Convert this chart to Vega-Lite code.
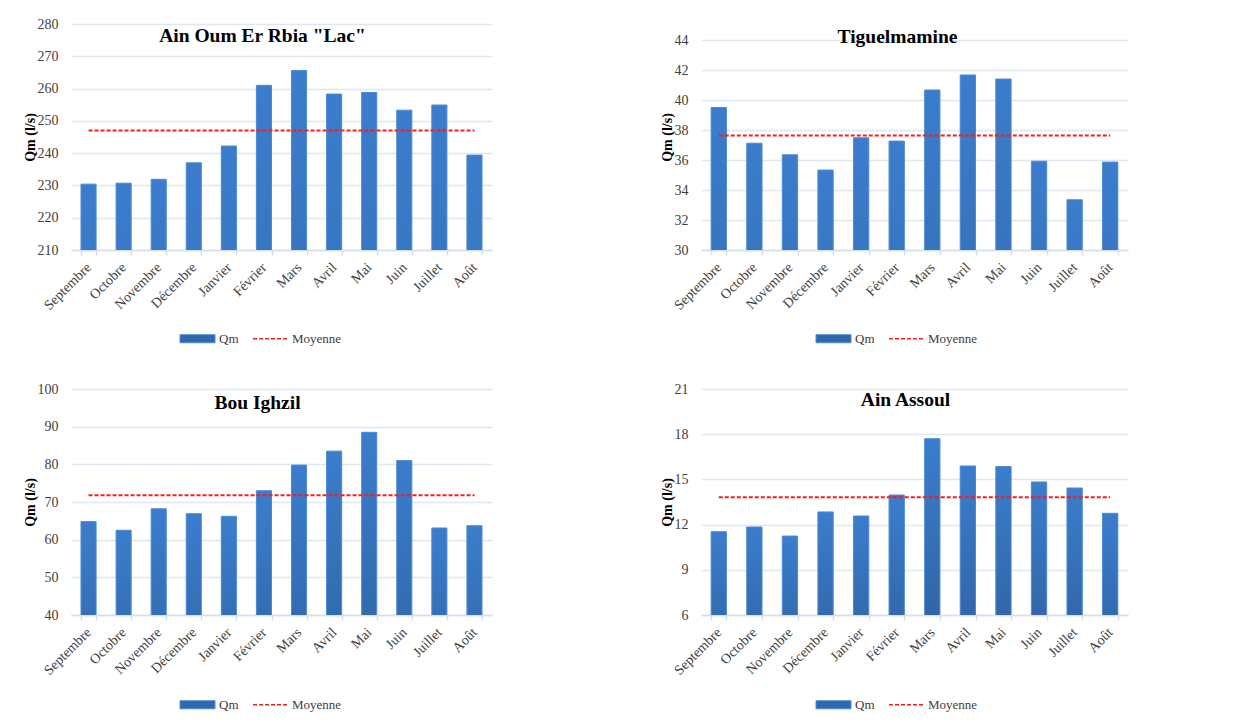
{
  "$schema": "https://vega.github.io/schema/vega-lite/v6.json",
  "background": "white",
  "padding": {"left": 23, "top": 17, "right": 5, "bottom": 5},
  "config": {
    "font": "Liberation Serif",
    "view": {"stroke": null},
    "axis": {"labelFont": "Liberation Serif", "titleFont": "Liberation Serif", "labelColor": "#404040", "labelFontSize": 14, "titleFontSize": 14, "titleColor": "#000000", "labelOverlap": false},
    "axisY": {"domain": false, "ticks": false, "gridColor": "#dfe7f2", "gridWidth": 1.5, "labelPadding": 13, "titleFontWeight": "bold", "titlePadding": 0},
    "axisX": {"grid": false, "domainColor": "#d5dfec", "domainWidth": 1.5, "tickColor": "#d5dfec", "tickWidth": 1.5, "tickSize": 5, "tickBand": "extent", "labelAngle": -45, "labelAlign": "right", "labelBaseline": "middle", "labelPadding": 10, "title": null},
    "title": {"font": "Liberation Serif", "fontSize": 19.5, "fontWeight": "bold", "color": "#000000", "anchor": "middle"},
    "legend": {"direction": "horizontal", "title": null, "labelFont": "Liberation Serif", "labelFontSize": 13, "labelColor": "#404040", "symbolSize": 1225, "columnPadding": 11, "labelOffset": 15}
  },
  "vconcat": [
    {
      "hconcat": [
        {
          "width": 421, "height": 226,
          "title": {"text": "Ain Oum Er Rbia \"Lac\"", "offset": -29, "dx": -19},
          "data": {"values": [
            {"mois": "Septembre", "Qm": 230.4, "Moyenne": 247.0},
            {"mois": "Octobre", "Qm": 230.7, "Moyenne": 247.0},
            {"mois": "Novembre", "Qm": 231.9, "Moyenne": 247.0},
            {"mois": "Décembre", "Qm": 237.0, "Moyenne": 247.0},
            {"mois": "Janvier", "Qm": 242.2, "Moyenne": 247.0},
            {"mois": "Février", "Qm": 261.0, "Moyenne": 247.0},
            {"mois": "Mars", "Qm": 265.6, "Moyenne": 247.0},
            {"mois": "Avril", "Qm": 258.3, "Moyenne": 247.0},
            {"mois": "Mai", "Qm": 258.8, "Moyenne": 247.0},
            {"mois": "Juin", "Qm": 253.3, "Moyenne": 247.0},
            {"mois": "Juillet", "Qm": 254.9, "Moyenne": 247.0},
            {"mois": "Août", "Qm": 239.4, "Moyenne": 247.0}
          ]},
          "encoding": {
            "x": {"field": "mois", "type": "nominal", "sort": null, "scale": {"paddingInner": 0.57, "paddingOuter": 0.285}}
          },
          "layer": [
            {
              "mark": {"type": "bar", "clip": true, "strokeWidth": 1, "fill": {"x1": 0, "y1": 0, "x2": 0, "y2": 1, "gradient": "linear", "stops": [{"offset": 0, "color": "#3b7dcc"}, {"offset": 1, "color": "#2c5a93"}]}},
              "encoding": {
                "y": {"field": "Qm", "type": "quantitative", "title": "Qm (l/s)", "scale": {"domain": [210, 280], "zero": false, "nice": false}, "axis": {"values": [210, 220, 230, 240, 250, 260, 270, 280]}},
                "stroke": {"datum": "Qm", "scale": {"domain": ["Qm", "Moyenne"], "range": ["#4a8ad8", "#ff1a1a"]},
                  "legend": {"orient": "none", "legendX": 120, "legendY": 308, "symbolSize": 1225, "encode": {"symbols": {"update": {
                    "shape": {"signal": "datum.value === 'Qm' ? 'M-1,-0.23H1V0.23H-1Z' : 'M-1,0H1'"},
                    "size": {"value": 1225},
                    "fill": {"signal": "datum.value === 'Qm' ? '#3167ad' : 'transparent'"},
                    "stroke": {"signal": "datum.value === 'Qm' ? '#3a78c4' : '#ff1a1a'"},
                    "strokeWidth": {"signal": "datum.value === 'Qm' ? 1 : 1.5"},
                    "strokeDash": {"signal": "datum.value === 'Qm' ? [] : [4, 2]"},
                    "opacity": {"value": 1}
                  }}}}
                }
              }
            },
            {
              "mark": {"type": "line", "strokeWidth": 2, "strokeDash": [4, 2]},
              "encoding": {
                "y": {"field": "Moyenne", "type": "quantitative", "title": "Qm (l/s)", "axis": {"values": [210, 220, 230, 240, 250, 260, 270, 280]}},
                "stroke": {"datum": "Moyenne",
                  "legend": {"orient": "none", "legendX": 120, "legendY": 308, "symbolSize": 1225, "encode": {"symbols": {"update": {
                    "shape": {"signal": "datum.value === 'Qm' ? 'M-1,-0.23H1V0.23H-1Z' : 'M-1,0H1'"},
                    "size": {"value": 1225},
                    "fill": {"signal": "datum.value === 'Qm' ? '#3167ad' : 'transparent'"},
                    "stroke": {"signal": "datum.value === 'Qm' ? '#3a78c4' : '#ff1a1a'"},
                    "strokeWidth": {"signal": "datum.value === 'Qm' ? 1 : 1.5"},
                    "strokeDash": {"signal": "datum.value === 'Qm' ? [] : [4, 2]"},
                    "opacity": {"value": 1}
                  }}}}
                }
              }
            }
          ]
        },
        {
          "width": 427, "height": 226,
          "title": {"text": "Tiguelmamine", "offset": -23, "dx": -17},
          "data": {"values": [
            {"mois": "Septembre", "Qm": 39.5, "Moyenne": 37.63},
            {"mois": "Octobre", "Qm": 37.12, "Moyenne": 37.63},
            {"mois": "Novembre", "Qm": 36.35, "Moyenne": 37.63},
            {"mois": "Décembre", "Qm": 35.33, "Moyenne": 37.63},
            {"mois": "Janvier", "Qm": 37.48, "Moyenne": 37.63},
            {"mois": "Février", "Qm": 37.26, "Moyenne": 37.63},
            {"mois": "Mars", "Qm": 40.67, "Moyenne": 37.63},
            {"mois": "Avril", "Qm": 41.67, "Moyenne": 37.63},
            {"mois": "Mai", "Qm": 41.4, "Moyenne": 37.63},
            {"mois": "Juin", "Qm": 35.92, "Moyenne": 37.63},
            {"mois": "Juillet", "Qm": 33.35, "Moyenne": 37.63},
            {"mois": "Août", "Qm": 35.86, "Moyenne": 37.63}
          ]},
          "encoding": {
            "x": {"field": "mois", "type": "nominal", "sort": null, "scale": {"paddingInner": 0.57, "paddingOuter": 0.285}}
          },
          "layer": [
            {
              "mark": {"type": "bar", "clip": true, "strokeWidth": 1, "fill": {"x1": 0, "y1": 0, "x2": 0, "y2": 1, "gradient": "linear", "stops": [{"offset": 0, "color": "#3b7dcc"}, {"offset": 1, "color": "#2c5a93"}]}},
              "encoding": {
                "y": {"field": "Qm", "type": "quantitative", "title": "Qm (l/s)", "scale": {"domain": [30, 45.07], "zero": false, "nice": false}, "axis": {"values": [30, 32, 34, 36, 38, 40, 42, 44]}},
                "stroke": {"datum": "Qm", "scale": {"domain": ["Qm", "Moyenne"], "range": ["#4a8ad8", "#ff1a1a"]},
                  "legend": {"orient": "none", "legendX": 126, "legendY": 308, "symbolSize": 1225, "encode": {"symbols": {"update": {
                    "shape": {"signal": "datum.value === 'Qm' ? 'M-1,-0.23H1V0.23H-1Z' : 'M-1,0H1'"},
                    "size": {"value": 1225},
                    "fill": {"signal": "datum.value === 'Qm' ? '#3167ad' : 'transparent'"},
                    "stroke": {"signal": "datum.value === 'Qm' ? '#3a78c4' : '#ff1a1a'"},
                    "strokeWidth": {"signal": "datum.value === 'Qm' ? 1 : 1.5"},
                    "strokeDash": {"signal": "datum.value === 'Qm' ? [] : [4, 2]"},
                    "opacity": {"value": 1}
                  }}}}
                }
              }
            },
            {
              "mark": {"type": "line", "strokeWidth": 2, "strokeDash": [4, 2]},
              "encoding": {
                "y": {"field": "Moyenne", "type": "quantitative", "title": "Qm (l/s)", "axis": {"values": [30, 32, 34, 36, 38, 40, 42, 44]}},
                "stroke": {"datum": "Moyenne",
                  "legend": {"orient": "none", "legendX": 126, "legendY": 308, "symbolSize": 1225, "encode": {"symbols": {"update": {
                    "shape": {"signal": "datum.value === 'Qm' ? 'M-1,-0.23H1V0.23H-1Z' : 'M-1,0H1'"},
                    "size": {"value": 1225},
                    "fill": {"signal": "datum.value === 'Qm' ? '#3167ad' : 'transparent'"},
                    "stroke": {"signal": "datum.value === 'Qm' ? '#3a78c4' : '#ff1a1a'"},
                    "strokeWidth": {"signal": "datum.value === 'Qm' ? 1 : 1.5"},
                    "strokeDash": {"signal": "datum.value === 'Qm' ? [] : [4, 2]"},
                    "opacity": {"value": 1}
                  }}}}
                }
              }
            }
          ]
        }
      ],
      "spacing": 168,
      "resolve": {"scale": {"stroke": "independent"}, "legend": {"stroke": "independent"}}
    },
    {
      "hconcat": [
        {
          "width": 421, "height": 226,
          "title": {"text": "Bou Ighzil", "offset": -31, "dx": -24},
          "data": {"values": [
            {"mois": "Septembre", "Qm": 64.8, "Moyenne": 71.8},
            {"mois": "Octobre", "Qm": 62.5, "Moyenne": 71.8},
            {"mois": "Novembre", "Qm": 68.2, "Moyenne": 71.8},
            {"mois": "Décembre", "Qm": 66.9, "Moyenne": 71.8},
            {"mois": "Janvier", "Qm": 66.2, "Moyenne": 71.8},
            {"mois": "Février", "Qm": 73.0, "Moyenne": 71.8},
            {"mois": "Mars", "Qm": 79.8, "Moyenne": 71.8},
            {"mois": "Avril", "Qm": 83.5, "Moyenne": 71.8},
            {"mois": "Mai", "Qm": 88.5, "Moyenne": 71.8},
            {"mois": "Juin", "Qm": 81.0, "Moyenne": 71.8},
            {"mois": "Juillet", "Qm": 63.1, "Moyenne": 71.8},
            {"mois": "Août", "Qm": 63.7, "Moyenne": 71.8}
          ]},
          "encoding": {
            "x": {"field": "mois", "type": "nominal", "sort": null, "scale": {"paddingInner": 0.57, "paddingOuter": 0.285}}
          },
          "layer": [
            {
              "mark": {"type": "bar", "clip": true, "strokeWidth": 1, "fill": {"x1": 0, "y1": 0, "x2": 0, "y2": 1, "gradient": "linear", "stops": [{"offset": 0, "color": "#3b7dcc"}, {"offset": 1, "color": "#2c5a93"}]}},
              "encoding": {
                "y": {"field": "Qm", "type": "quantitative", "title": "Qm (l/s)", "scale": {"domain": [40, 100], "zero": false, "nice": false}, "axis": {"values": [40, 50, 60, 70, 80, 90, 100]}},
                "stroke": {"datum": "Qm", "scale": {"domain": ["Qm", "Moyenne"], "range": ["#4a8ad8", "#ff1a1a"]},
                  "legend": {"orient": "none", "legendX": 120, "legendY": 309, "symbolSize": 1225, "encode": {"symbols": {"update": {
                    "shape": {"signal": "datum.value === 'Qm' ? 'M-1,-0.23H1V0.23H-1Z' : 'M-1,0H1'"},
                    "size": {"value": 1225},
                    "fill": {"signal": "datum.value === 'Qm' ? '#3167ad' : 'transparent'"},
                    "stroke": {"signal": "datum.value === 'Qm' ? '#3a78c4' : '#ff1a1a'"},
                    "strokeWidth": {"signal": "datum.value === 'Qm' ? 1 : 1.5"},
                    "strokeDash": {"signal": "datum.value === 'Qm' ? [] : [4, 2]"},
                    "opacity": {"value": 1}
                  }}}}
                }
              }
            },
            {
              "mark": {"type": "line", "strokeWidth": 2, "strokeDash": [4, 2]},
              "encoding": {
                "y": {"field": "Moyenne", "type": "quantitative", "title": "Qm (l/s)", "axis": {"values": [40, 50, 60, 70, 80, 90, 100]}},
                "stroke": {"datum": "Moyenne",
                  "legend": {"orient": "none", "legendX": 120, "legendY": 309, "symbolSize": 1225, "encode": {"symbols": {"update": {
                    "shape": {"signal": "datum.value === 'Qm' ? 'M-1,-0.23H1V0.23H-1Z' : 'M-1,0H1'"},
                    "size": {"value": 1225},
                    "fill": {"signal": "datum.value === 'Qm' ? '#3167ad' : 'transparent'"},
                    "stroke": {"signal": "datum.value === 'Qm' ? '#3a78c4' : '#ff1a1a'"},
                    "strokeWidth": {"signal": "datum.value === 'Qm' ? 1 : 1.5"},
                    "strokeDash": {"signal": "datum.value === 'Qm' ? [] : [4, 2]"},
                    "opacity": {"value": 1}
                  }}}}
                }
              }
            }
          ]
        },
        {
          "width": 427, "height": 226,
          "title": {"text": "Ain Assoul", "offset": -28, "dx": -9},
          "data": {"values": [
            {"mois": "Septembre", "Qm": 11.53, "Moyenne": 13.81},
            {"mois": "Octobre", "Qm": 11.84, "Moyenne": 13.81},
            {"mois": "Novembre", "Qm": 11.24, "Moyenne": 13.81},
            {"mois": "Décembre", "Qm": 12.84, "Moyenne": 13.81},
            {"mois": "Janvier", "Qm": 12.57, "Moyenne": 13.81},
            {"mois": "Février", "Qm": 13.96, "Moyenne": 13.81},
            {"mois": "Mars", "Qm": 17.7, "Moyenne": 13.81},
            {"mois": "Avril", "Qm": 15.89, "Moyenne": 13.81},
            {"mois": "Mai", "Qm": 15.85, "Moyenne": 13.81},
            {"mois": "Juin", "Qm": 14.83, "Moyenne": 13.81},
            {"mois": "Juillet", "Qm": 14.43, "Moyenne": 13.81},
            {"mois": "Août", "Qm": 12.75, "Moyenne": 13.81}
          ]},
          "encoding": {
            "x": {"field": "mois", "type": "nominal", "sort": null, "scale": {"paddingInner": 0.57, "paddingOuter": 0.285}}
          },
          "layer": [
            {
              "mark": {"type": "bar", "clip": true, "strokeWidth": 1, "fill": {"x1": 0, "y1": 0, "x2": 0, "y2": 1, "gradient": "linear", "stops": [{"offset": 0, "color": "#3b7dcc"}, {"offset": 1, "color": "#2c5a93"}]}},
              "encoding": {
                "y": {"field": "Qm", "type": "quantitative", "title": "Qm (l/s)", "scale": {"domain": [6, 21], "zero": false, "nice": false}, "axis": {"values": [6, 9, 12, 15, 18, 21]}},
                "stroke": {"datum": "Qm", "scale": {"domain": ["Qm", "Moyenne"], "range": ["#4a8ad8", "#ff1a1a"]},
                  "legend": {"orient": "none", "legendX": 126, "legendY": 309, "symbolSize": 1225, "encode": {"symbols": {"update": {
                    "shape": {"signal": "datum.value === 'Qm' ? 'M-1,-0.23H1V0.23H-1Z' : 'M-1,0H1'"},
                    "size": {"value": 1225},
                    "fill": {"signal": "datum.value === 'Qm' ? '#3167ad' : 'transparent'"},
                    "stroke": {"signal": "datum.value === 'Qm' ? '#3a78c4' : '#ff1a1a'"},
                    "strokeWidth": {"signal": "datum.value === 'Qm' ? 1 : 1.5"},
                    "strokeDash": {"signal": "datum.value === 'Qm' ? [] : [4, 2]"},
                    "opacity": {"value": 1}
                  }}}}
                }
              }
            },
            {
              "mark": {"type": "line", "strokeWidth": 2, "strokeDash": [4, 2]},
              "encoding": {
                "y": {"field": "Moyenne", "type": "quantitative", "title": "Qm (l/s)", "axis": {"values": [6, 9, 12, 15, 18, 21]}},
                "stroke": {"datum": "Moyenne",
                  "legend": {"orient": "none", "legendX": 126, "legendY": 309, "symbolSize": 1225, "encode": {"symbols": {"update": {
                    "shape": {"signal": "datum.value === 'Qm' ? 'M-1,-0.23H1V0.23H-1Z' : 'M-1,0H1'"},
                    "size": {"value": 1225},
                    "fill": {"signal": "datum.value === 'Qm' ? '#3167ad' : 'transparent'"},
                    "stroke": {"signal": "datum.value === 'Qm' ? '#3a78c4' : '#ff1a1a'"},
                    "strokeWidth": {"signal": "datum.value === 'Qm' ? 1 : 1.5"},
                    "strokeDash": {"signal": "datum.value === 'Qm' ? [] : [4, 2]"},
                    "opacity": {"value": 1}
                  }}}}
                }
              }
            }
          ]
        }
      ],
      "spacing": 168,
      "resolve": {"scale": {"stroke": "independent"}, "legend": {"stroke": "independent"}}
    }
  ],
  "spacing": 36,
  "resolve": {"scale": {"stroke": "independent"}, "legend": {"stroke": "independent"}}
}
